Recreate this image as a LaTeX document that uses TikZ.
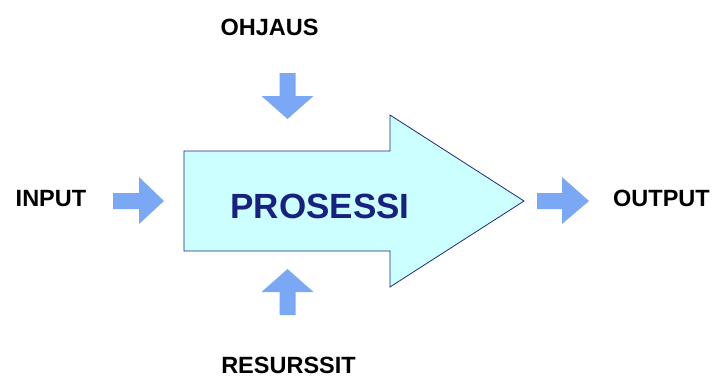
\documentclass[tikz,border=0pt]{standalone}
\usepackage{fontspec}
\setmainfont{Liberation Sans}
\definecolor{flowblue}{RGB}{122,168,245}
\definecolor{procfill}{RGB}{204,255,255}
\definecolor{procline}{RGB}{30,40,130}
\definecolor{proctext}{RGB}{24,32,128}
\begin{document}
\begin{tikzpicture}[x=1pt,y=-1pt,
  label/.style={font=\fontsize{23.5}{23.5}\selectfont\bfseries, inner sep=0pt, text depth=0pt, anchor=base},
  flowarrow/.style={fill=flowblue, draw=none}]
\useasboundingbox (0,0) rectangle (713,376);

% main process arrow
\draw[procline, fill=procfill, line width=0.8pt, line join=miter]
  (184,151) -- (390,151) -- (390,115) -- (524,201) -- (390,287) -- (390,251) -- (184,251) -- cycle;
\node[font=\fontsize{35}{35}\selectfont\bfseries, text=proctext, inner sep=0pt] (proc) at (320,206) {PROSESSI};

% small input/output arrows
\fill[flowarrow] (113,193) -- (139,193) -- (139,177) -- (164,201) -- (139,224) -- (139,209) -- (113,209) -- cycle;
\fill[flowarrow] (537,193) -- (562,193) -- (562,177) -- (589,201) -- (562,224) -- (562,209) -- (537,209) -- cycle;
\fill[flowarrow] (279.5,73) -- (295.5,73) -- (295.5,96) -- (313.5,96) -- (287.5,119) -- (261.5,96) -- (279.5,96) -- cycle;
\fill[flowarrow] (279.5,315) -- (295.5,315) -- (295.5,292) -- (313.5,292) -- (287.5,269) -- (261.5,292) -- (279.5,292) -- cycle;

% labels
\node[label] (ohjaus) at (269.5,35) {OHJAUS};
\node[label] (input) at (51,206) {INPUT};
\node[label] (output) at (661.5,206.5) {OUTPUT};
\node[label] (resurssit) at (288.5,373) {RESURSSIT};
\end{tikzpicture}
\end{document}
